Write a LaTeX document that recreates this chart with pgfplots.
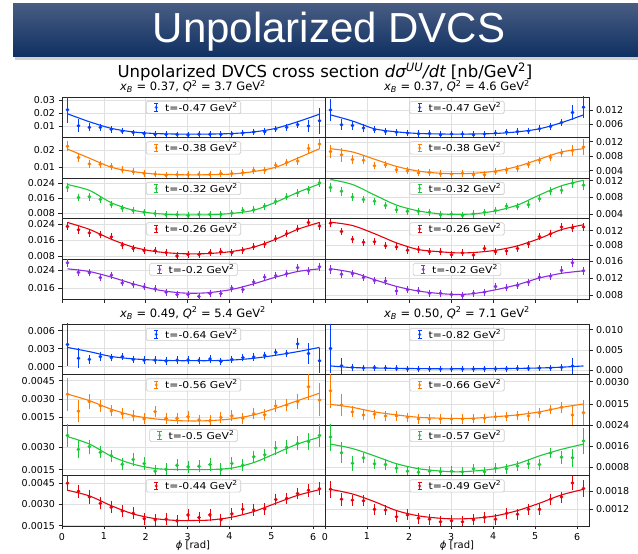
\documentclass[border=0pt]{standalone}
\usepackage{fontspec}
\setmainfont{DejaVu Sans}
\newfontfamily\bannerfont{Liberation Sans}
\newfontfamily\legfont{DejaVu Sans}[FakeStretch=1.14]
\usepackage{pgfplots}
\pgfplotsset{compat=1.18}
\definecolor{cblue}{HTML}{023EFF}
\definecolor{corange}{HTML}{FF7C00}
\definecolor{cgreen}{HTML}{1AC938}
\definecolor{cred}{HTML}{E8000B}
\definecolor{cpurple}{HTML}{8B2BE2}
\pgfplotsset{
  base/.style={scale only axis, xmin=0, xmax=6.2832, xtick={0,1,2,3,4,5,6}, xticklabels={},
    grid=major, major grid style={draw=black!12, line width=0.5pt},
    axis line style={draw=black!85, line width=0.7pt},
    tick align=outside, major tick length=3.5pt,
    tick style={draw=black!85, line width=0.7pt},
    tick label style={font=\fontsize{9.5}{11}\selectfont},
    scaled y ticks=false, xtick pos=bottom,
    legend cell align=left,
    legend style={at={(0.5,1)}, anchor=north, yshift=-4pt, draw=black!20, line width=0.6pt,
      rounded corners=1.5pt, fill=white, fill opacity=0.8, draw opacity=1, text opacity=1,
      font=\legfont\fontsize{9.5}{11}\selectfont, inner xsep=2pt, inner ysep=0pt, nodes={inner sep=1pt}}},
  leftp/.style={base, width=263pt, ytick pos=left},
  rightp/.style={base, width=264pt, ytick pos=right, yticklabel pos=right},
  inner/.style={xtick style={draw=none}},
  bot/.style={xticklabels={0,1,2,3,4,5,6}},
  toph/.style={height=40.5pt},
  both/.style={height=50.5pt},
  dat/.style={only marks, mark=*, mark size=1.6pt, color=#1, mark options={solid, fill=#1, draw=#1},
    legend image code/.code={%
      \path[draw=none, fill=none] (0pt,-1pt) rectangle (16pt,1pt);
      \draw[color=#1, line width=0.8pt] (8pt,-3.7pt) -- (8pt,3.7pt);
      \draw[color=#1, line width=0.8pt] (5.8pt,-3.7pt) -- (10.2pt,-3.7pt) (5.8pt,3.7pt) -- (10.2pt,3.7pt);
      \fill[color=#1, draw=none] (8pt,0pt) circle (1.7pt);},
    error bars/y dir=both, error bars/y explicit,
    error bars/error bar style={line width=0.8pt, color=#1},
    error bars/error mark options={line width=0.8pt, mark size=2.4pt, color=#1}},
  fit/.style={no marks, smooth, line width=1.1pt, color=#1, forget plot},
}
\begin{document}
\begin{tikzpicture}[x=1pt,y=1pt]
\useasboundingbox (0,0) rectangle (638,554);
\fill[white] (0,0) rectangle (638,554);
\fill[black!18] (15,494) rectangle (638,497);
\shade[top color={rgb,255:red,72;green,92;blue,130}, bottom color={rgb,255:red,14;green,48;blue,98}] (13,497) rectangle (638,550);
\node[anchor=base, white, font=\bannerfont\fontsize{42}{48}\selectfont] at (329,511) {Unpolarized DVCS};
\node[anchor=base, font=\fontsize{16.5}{19}\selectfont] at (325,476.5) {Unpolarized DVCS cross section {\itshape dσ}\textsuperscript{\itshape UU}{\itshape /dt} [nb/GeV\textsuperscript{2}]};
\node[anchor=base, font=\fontsize{11.5}{13}\selectfont] at (193,463) {{\itshape x}\textsubscript{\itshape B} = 0.37, {\itshape Q}\textsuperscript{2} = 3.7 GeV\textsuperscript{2}};
\node[anchor=base, font=\fontsize{11.5}{13}\selectfont] at (457,463) {{\itshape x}\textsubscript{\itshape B} = 0.37, {\itshape Q}\textsuperscript{2} = 4.6 GeV\textsuperscript{2}};
\node[anchor=base, font=\fontsize{11.5}{13}\selectfont] at (193,236.7) {{\itshape x}\textsubscript{\itshape B} = 0.49, {\itshape Q}\textsuperscript{2} = 5.4 GeV\textsuperscript{2}};
\node[anchor=base, font=\fontsize{11.5}{13}\selectfont] at (457,236.7) {{\itshape x}\textsubscript{\itshape B} = 0.50, {\itshape Q}\textsuperscript{2} = 7.1 GeV\textsuperscript{2}};
\node[anchor=base, inner sep=0pt, font=\fontsize{10}{11}\selectfont] at (193,5) {{\itshape ϕ} [rad]};
\node[anchor=base, inner sep=0pt, font=\fontsize{10}{11}\selectfont] at (457,5) {{\itshape ϕ} [rad]};

% ---------- top-left group ----------
\begin{axis}[leftp, toph, inner, at={(62pt,416.5pt)}, anchor=south west, ymin=0.0016, ymax=0.0322, ytick={0.01,0.02,0.03}, yticklabels={0.01,0.02,0.03}]
\addplot[dat=cblue] table[x index=0, y index=1, y error index=2] {
0.131 0.0225 0.0078
0.393 0.0105 0.0030
0.654 0.0093 0.0012
0.916 0.0093 0.0008
1.178 0.0078 0.0008
1.440 0.0063 0.0006
1.702 0.0053 0.0005
1.963 0.0045 0.0005
2.225 0.0040 0.0005
2.487 0.0040 0.0005
2.749 0.0038 0.0005
3.011 0.0035 0.0005
3.272 0.0040 0.0005
3.534 0.0040 0.0005
3.796 0.0040 0.0005
4.058 0.0043 0.0005
4.320 0.0050 0.0005
4.581 0.0058 0.0005
4.843 0.0060 0.0006
5.105 0.0080 0.0008
5.367 0.0093 0.0008
5.629 0.0113 0.0010
5.890 0.0103 0.0030
6.152 0.0143 0.0079
};
\addlegendentry{t=-0.47 GeV\textsuperscript{2}}
\addplot[fit=cblue] coordinates {(0.131,0.0195) (0.654,0.0135) (1.178,0.0085) (1.702,0.0058) (2.225,0.0046) (2.749,0.0042) (3.142,0.0041) (3.534,0.0042) (4.058,0.0046) (4.581,0.0058) (5.105,0.0085) (5.629,0.0135) (6.152,0.0192)};
\end{axis}

\begin{axis}[leftp, toph, inner, at={(62pt,376pt)}, anchor=south west, ymin=0.0033, ymax=0.0278, ytick={0.01,0.02}, yticklabels={0.01,0.02}]
\addplot[dat=corange] table[x index=0, y index=1, y error index=2] {
0.131 0.0225 0.0015
0.393 0.0157 0.0013
0.654 0.0118 0.0008
0.916 0.0116 0.0008
1.178 0.0104 0.0007
1.440 0.0082 0.0007
1.702 0.0071 0.0006
1.963 0.0061 0.0006
2.225 0.0057 0.0006
2.487 0.0049 0.0006
2.749 0.0053 0.0006
3.011 0.0053 0.0006
3.272 0.0055 0.0006
3.534 0.0055 0.0006
3.796 0.0061 0.0006
4.058 0.0061 0.0006
4.320 0.0065 0.0006
4.581 0.0080 0.0007
4.843 0.0080 0.0007
5.105 0.0110 0.0007
5.367 0.0127 0.0007
5.629 0.0135 0.0009
5.890 0.0212 0.0012
6.152 0.0239 0.0018
};
\addlegendentry{t=-0.38 GeV\textsuperscript{2}}
\addplot[fit=corange] coordinates {(0.131,0.0208) (0.654,0.0153) (1.178,0.0098) (1.702,0.0072) (2.225,0.0057) (2.749,0.0053) (3.142,0.0052) (3.534,0.0053) (4.058,0.0057) (4.581,0.0072) (5.105,0.0098) (5.629,0.0153) (6.152,0.0210)};
\end{axis}

\begin{axis}[leftp, toph, inner, at={(62pt,335.5pt)}, anchor=south west, ymin=0.0051, ymax=0.0267, ytick={0.008,0.016,0.024}, yticklabels={0.008,0.016,0.024}]
\addplot[dat=cgreen] table[x index=0, y index=1, y error index=2] {
0.131 0.0217 0.0010
0.393 0.0163 0.0008
0.654 0.0167 0.0008
0.916 0.0153 0.0006
1.178 0.0124 0.0006
1.440 0.0106 0.0006
1.702 0.0094 0.0006
1.963 0.0085 0.0006
2.225 0.0077 0.0006
2.487 0.0071 0.0006
2.749 0.0071 0.0006
3.011 0.0066 0.0006
3.272 0.0073 0.0006
3.534 0.0073 0.0006
3.796 0.0073 0.0006
4.058 0.0080 0.0006
4.320 0.0094 0.0006
4.581 0.0098 0.0006
4.843 0.0117 0.0006
5.105 0.0142 0.0006
5.367 0.0166 0.0006
5.629 0.0187 0.0006
5.890 0.0205 0.0008
6.152 0.0241 0.0009
};
\addlegendentry{t=-0.32 GeV\textsuperscript{2}}
\addplot[fit=cgreen] coordinates {(0.131,0.0232) (0.654,0.0201) (1.178,0.0135) (1.702,0.0095) (2.225,0.0078) (2.749,0.0071) (3.142,0.0070) (3.534,0.0071) (4.058,0.0078) (4.581,0.0095) (5.105,0.0138) (5.629,0.0190) (6.152,0.0235)};
\end{axis}

\begin{axis}[leftp, toph, inner, at={(62pt,295pt)}, anchor=south west, ymin=0.0065, ymax=0.027, ytick={0.008,0.016,0.024}, yticklabels={0.008,0.016,0.024}]
\addplot[dat=cred] table[x index=0, y index=1, y error index=2] {
0.131 0.0230 0.0008
0.393 0.0213 0.0007
0.654 0.0197 0.0006
0.916 0.0188 0.0006
1.178 0.0177 0.0006
1.440 0.0135 0.0006
1.702 0.0118 0.0006
1.963 0.0107 0.0006
2.225 0.0107 0.0006
2.487 0.0097 0.0006
2.749 0.0080 0.0006
3.011 0.0088 0.0006
3.272 0.0088 0.0006
3.534 0.0098 0.0006
3.796 0.0102 0.0006
4.058 0.0097 0.0006
4.320 0.0110 0.0006
4.581 0.0127 0.0006
4.843 0.0140 0.0006
5.105 0.0168 0.0006
5.367 0.0193 0.0006
5.629 0.0218 0.0006
5.890 0.0250 0.0007
6.152 0.0232 0.0008
};
\addlegendentry{t=-0.26 GeV\textsuperscript{2}}
\addplot[fit=cred] coordinates {(0.131,0.0250) (0.654,0.0215) (1.178,0.0165) (1.702,0.0125) (2.225,0.0103) (2.749,0.0093) (3.142,0.0091) (3.534,0.0093) (4.058,0.0103) (4.581,0.0125) (5.105,0.0165) (5.629,0.0215) (6.152,0.0250)};
\end{axis}

\begin{axis}[leftp, toph, at={(62pt,254.5pt)}, anchor=south west, ymin=0.011, ymax=0.0291, ytick={0.016,0.024}, yticklabels={0.016,0.024}]
\addplot[dat=cpurple] table[x index=0, y index=1, y error index=2] {
0.131 0.0274 0.0006
0.393 0.0231 0.0006
0.654 0.0229 0.0005
0.916 0.0208 0.0005
1.178 0.0219 0.0005
1.440 0.0184 0.0005
1.702 0.0177 0.0005
1.963 0.0166 0.0005
2.225 0.0157 0.0005
2.487 0.0143 0.0005
2.749 0.0132 0.0005
3.011 0.0132 0.0005
3.272 0.0124 0.0005
3.534 0.0137 0.0005
3.796 0.0136 0.0005
4.058 0.0161 0.0005
4.320 0.0154 0.0005
4.581 0.0188 0.0005
4.843 0.0210 0.0005
5.105 0.0216 0.0005
5.367 0.0226 0.0005
5.629 0.0252 0.0005
5.890 0.0237 0.0006
6.152 0.0256 0.0006
};
\addlegendentry{t=-0.2 GeV\textsuperscript{2}}
\addplot[fit=cpurple] coordinates {(0.131,0.0247) (0.654,0.0235) (1.178,0.0210) (1.702,0.0180) (2.225,0.0155) (2.749,0.0141) (3.142,0.0138) (3.534,0.0141) (4.058,0.0155) (4.581,0.0180) (5.105,0.0210) (5.629,0.0235) (6.152,0.0247)};
\end{axis}

% ---------- top-right group ----------
\begin{axis}[rightp, toph, inner, at={(325pt,416.5pt)}, anchor=south west, ymin=0.0003, ymax=0.0175, ytick={0.006,0.012}, yticklabels={0.006,0.012}]
\addplot[dat=cblue] table[x index=0, y index=1, y error index=2] {
0.131 0.0120 0.0038
0.393 0.0057 0.0013
0.654 0.0054 0.0007
0.916 0.0043 0.0005
1.178 0.0036 0.0004
1.440 0.0028 0.0004
1.702 0.0025 0.0004
1.963 0.0022 0.0004
2.225 0.0019 0.0004
2.487 0.0020 0.0004
2.749 0.0015 0.0004
3.011 0.0018 0.0004
3.272 0.0018 0.0004
3.534 0.0015 0.0004
3.796 0.0018 0.0004
4.058 0.0022 0.0004
4.320 0.0026 0.0004
4.581 0.0028 0.0004
4.843 0.0031 0.0004
5.105 0.0040 0.0004
5.367 0.0050 0.0004
5.629 0.0067 0.0006
5.890 0.0109 0.0022
6.152 0.0131 0.0036
};
\addlegendentry{t=-0.47 GeV\textsuperscript{2}}
\addplot[fit=cblue] coordinates {(0.131,0.0099) (0.654,0.0073) (1.178,0.0040) (1.702,0.0027) (2.225,0.0020) (2.749,0.0018) (3.142,0.0017) (3.534,0.0018) (4.058,0.0020) (4.581,0.0027) (5.105,0.0040) (5.629,0.0066) (6.152,0.0099)};
\end{axis}

\begin{axis}[rightp, toph, inner, at={(325pt,376pt)}, anchor=south west, ymin=0.0020, ymax=0.0132, ytick={0.004,0.008,0.012}, yticklabels={0.004,0.008,0.012}]
\addplot[dat=corange] table[x index=0, y index=1, y error index=2] {
0.131 0.0093 0.0012
0.393 0.0084 0.0013
0.654 0.0071 0.0006
0.916 0.0069 0.0004
1.178 0.0054 0.0003
1.440 0.0056 0.0003
1.702 0.0043 0.0003
1.963 0.0040 0.0003
2.225 0.0034 0.0003
2.487 0.0035 0.0003
2.749 0.0032 0.0003
3.011 0.0031 0.0003
3.272 0.0033 0.0003
3.534 0.0029 0.0003
3.796 0.0029 0.0003
4.058 0.0037 0.0003
4.320 0.0042 0.0003
4.581 0.0046 0.0003
4.843 0.0057 0.0003
5.105 0.0069 0.0003
5.367 0.0077 0.0004
5.629 0.0089 0.0005
5.890 0.0096 0.0008
6.152 0.0106 0.0015
};
\addlegendentry{t=-0.38 GeV\textsuperscript{2}}
\addplot[fit=corange] coordinates {(0.131,0.0101) (0.654,0.0092) (1.178,0.0072) (1.702,0.0052) (2.225,0.0039) (2.749,0.0033) (3.142,0.0032) (3.534,0.0033) (4.058,0.0039) (4.581,0.0052) (5.105,0.0072) (5.629,0.0092) (6.152,0.0101)};
\end{axis}

\begin{axis}[rightp, toph, inner, at={(325pt,335.5pt)}, anchor=south west, ymin=0.0030, ymax=0.01265, ytick={0.004,0.008,0.012}, yticklabels={0.004,0.008,0.012}]
\addplot[dat=cgreen] table[x index=0, y index=1, y error index=2] {
0.131 0.0104 0.0006
0.393 0.0095 0.0005
0.654 0.0081 0.0003
0.916 0.0075 0.0003
1.178 0.0071 0.0003
1.440 0.0061 0.0003
1.702 0.0051 0.0003
1.963 0.0047 0.0003
2.225 0.0047 0.0003
2.487 0.0045 0.0003
2.749 0.0039 0.0003
3.011 0.0040 0.0003
3.272 0.0037 0.0003
3.534 0.0041 0.0003
3.796 0.0045 0.0003
4.058 0.0049 0.0003
4.320 0.0059 0.0003
4.581 0.0058 0.0003
4.843 0.0063 0.0003
5.105 0.0077 0.0003
5.367 0.0095 0.0004
5.629 0.0097 0.0004
5.890 0.0114 0.0005
6.152 0.0109 0.0006
};
\addlegendentry{t=-0.32 GeV\textsuperscript{2}}
\addplot[fit=cgreen] coordinates {(0.131,0.0123) (0.654,0.0111) (1.178,0.0086) (1.702,0.0062) (2.225,0.0048) (2.749,0.0041) (3.142,0.0040) (3.534,0.0041) (4.058,0.0048) (4.581,0.0062) (5.105,0.0086) (5.629,0.0108) (6.152,0.0121)};
\end{axis}

\begin{axis}[rightp, toph, inner, at={(325pt,295pt)}, anchor=south west, ymin=0.00435, ymax=0.0153, ytick={0.008,0.012}, yticklabels={0.008,0.012}]
\addplot[dat=cred] table[x index=0, y index=1, y error index=2] {
0.131 0.0140 0.0004
0.393 0.0118 0.0004
0.654 0.0097 0.0003
0.916 0.0089 0.0003
1.178 0.0090 0.0003
1.440 0.0079 0.0003
1.702 0.0076 0.0003
1.963 0.0067 0.0003
2.225 0.0069 0.0003
2.487 0.0063 0.0003
2.749 0.0063 0.0003
3.011 0.0055 0.0003
3.272 0.0060 0.0003
3.534 0.0054 0.0003
3.796 0.0072 0.0003
4.058 0.0063 0.0003
4.320 0.0065 0.0003
4.581 0.0072 0.0003
4.843 0.0084 0.0003
5.105 0.0104 0.0003
5.367 0.0112 0.0003
5.629 0.0130 0.0003
5.890 0.0127 0.0004
6.152 0.0130 0.0004
};
\addlegendentry{t=-0.26 GeV\textsuperscript{2}}
\addplot[fit=cred] coordinates {(0.131,0.0143) (0.654,0.0134) (1.178,0.0112) (1.702,0.0087) (2.225,0.0069) (2.749,0.0063) (3.142,0.0060) (3.534,0.0061) (4.058,0.0067) (4.581,0.0079) (5.105,0.0099) (5.629,0.0123) (6.152,0.0136)};
\end{axis}

\begin{axis}[rightp, toph, at={(325pt,254.5pt)}, anchor=south west, ymin=0.0069, ymax=0.0165, ytick={0.008,0.012,0.016}, yticklabels={0.008,0.012,0.016}]
\addplot[dat=cpurple] table[x index=0, y index=1, y error index=2] {
0.131 0.0140 0.0004
0.393 0.0129 0.0004
0.654 0.0130 0.0003
0.916 0.0121 0.0003
1.178 0.0114 0.0003
1.440 0.0113 0.0003
1.702 0.0089 0.0003
1.963 0.0092 0.0003
2.225 0.0090 0.0003
2.487 0.0084 0.0003
2.749 0.0084 0.0003
3.011 0.0081 0.0003
3.272 0.0078 0.0003
3.534 0.0084 0.0003
3.796 0.0086 0.0003
4.058 0.0100 0.0003
4.320 0.0097 0.0003
4.581 0.0102 0.0003
4.843 0.0110 0.0003
5.105 0.0122 0.0003
5.367 0.0124 0.0003
5.629 0.0138 0.0004
5.890 0.0156 0.0005
6.152 0.0137 0.0004
};
\addlegendentry{t=-0.2 GeV\textsuperscript{2}}
\addplot[fit=cpurple] coordinates {(0.131,0.0142) (0.654,0.0133) (1.178,0.0116) (1.702,0.0100) (2.225,0.0089) (2.749,0.0083) (3.142,0.0081) (3.534,0.0083) (4.058,0.0092) (4.581,0.0104) (5.105,0.0120) (5.629,0.0131) (6.152,0.0137)};
\end{axis}

% ---------- bottom-left group ----------
\begin{axis}[leftp, both, inner, at={(62pt,179.5pt)}, anchor=south west, ymin=-0.0013, ymax=0.0071, ytick={0,0.003,0.006}, yticklabels={0.000,0.003,0.006}]
\addplot[dat=cblue] table[x index=0, y index=1, y error index=2] {
0.131 0.0037 0.0032
0.393 0.0014 0.00125
0.654 0.0012 0.0004
0.916 0.00167 0.0003
1.178 0.0015 0.0002
1.440 0.00167 0.0002
1.702 0.0012 0.0002
1.963 0.0011 0.0002
2.225 0.0011 0.0002
2.487 0.00095 0.0002
2.749 0.0011 0.0002
3.011 0.0011 0.0002
3.272 0.00105 0.0002
3.534 0.00128 0.0002
3.796 0.0009 0.0002
4.058 0.0012 0.0002
4.320 0.0015 0.0002
4.581 0.0016 0.0002
4.843 0.0019 0.0002
5.105 0.0024 0.0002
5.367 0.0022 0.0002
5.629 0.0038 0.0005
5.890 0.0022 0.0013
6.152 0.0010 0.0017
};
\addlegendentry{t=-0.64 GeV\textsuperscript{2}}
\addplot[fit=cblue] coordinates {(0.131,0.0032) (0.654,0.0025) (1.178,0.0017) (1.702,0.0013) (2.225,0.0011) (2.749,0.0010) (3.142,0.0010) (3.534,0.0010) (4.058,0.0011) (4.581,0.0014) (5.105,0.0019) (5.629,0.0025) (6.152,0.0032)};
\end{axis}

\begin{axis}[leftp, both, inner, at={(62pt,129pt)}, anchor=south west, ymin=0.00087, ymax=0.0050, ytick={0.0015,0.0030,0.0045}, yticklabels={0.0015,0.0030,0.0045}]
\addplot[dat=corange] table[x index=0, y index=1, y error index=2] {
0.131 0.00339 0.00115
0.393 0.00200 0.0007
0.654 0.00278 0.0004
0.916 0.00243 0.0003
1.178 0.00202 0.00025
1.440 0.00178 0.00025
1.702 0.00161 0.00025
1.963 0.00137 0.00025
2.225 0.00197 0.00025
2.487 0.00142 0.00025
2.749 0.00142 0.00025
3.011 0.00155 0.00025
3.272 0.00128 0.00025
3.534 0.00123 0.00025
3.796 0.00150 0.00025
4.058 0.00161 0.00025
4.320 0.00142 0.00025
4.581 0.00178 0.00025
4.843 0.00170 0.00025
5.105 0.00243 0.0003
5.367 0.00250 0.0003
5.629 0.00278 0.0004
5.890 0.00400 0.0009
6.152 0.00292 0.00115
};
\addlegendentry{t=-0.56 GeV\textsuperscript{2}}
\addplot[fit=corange] coordinates {(0.131,0.0034) (0.654,0.00286) (1.178,0.00216) (1.702,0.00164) (2.225,0.00137) (2.749,0.00123) (3.142,0.0012) (3.534,0.00123) (4.058,0.00137) (4.581,0.0017) (5.105,0.00224) (5.629,0.00286) (6.152,0.00347)};
\end{axis}

\begin{axis}[leftp, both, inner, at={(62pt,78.5pt)}, anchor=south west, ymin=0.0011, ymax=0.0045, ytick={0.0015,0.0030}, yticklabels={0.0015,0.0030}]
\addplot[dat=cgreen] table[x index=0, y index=1, y error index=2] {
0.131 0.00379 0.0006
0.393 0.00286 0.00045
0.654 0.00304 0.0003
0.916 0.00266 0.00025
1.178 0.00243 0.00025
1.440 0.00186 0.00025
1.702 0.00218 0.00025
1.963 0.00191 0.00025
2.225 0.00140 0.00025
2.487 0.00152 0.00025
2.749 0.00179 0.00025
3.011 0.00168 0.00025
3.272 0.00172 0.00025
3.534 0.00184 0.00025
3.796 0.00150 0.00025
4.058 0.00191 0.00025
4.320 0.00179 0.00025
4.581 0.00236 0.00025
4.843 0.00250 0.00025
5.105 0.00295 0.0003
5.367 0.00300 0.0003
5.629 0.00327 0.0003
5.890 0.00338 0.0004
6.152 0.00379 0.0006
};
\addlegendentry{t=-0.5 GeV\textsuperscript{2}}
\addplot[fit=cgreen] coordinates {(0.131,0.00372) (0.654,0.00322) (1.178,0.0024) (1.702,0.00186) (2.225,0.00157) (2.749,0.0015) (3.142,0.0015) (3.534,0.0015) (4.058,0.0016) (4.581,0.00197) (5.105,0.00259) (5.629,0.00322) (6.152,0.00368)};
\end{axis}

\begin{axis}[leftp, both, bot, at={(62pt,28pt)}, anchor=south west, ymin=0.00148, ymax=0.00504, ytick={0.0015,0.0030,0.0045}, yticklabels={0.0015,0.0030,0.0045}]
\addplot[dat=cred] table[x index=0, y index=1, y error index=2] {
0.131 0.00450 0.0004
0.393 0.00393 0.0003
0.654 0.00353 0.0003
0.916 0.00307 0.00025
1.178 0.00280 0.00025
1.440 0.00254 0.00025
1.702 0.00238 0.00025
1.963 0.00199 0.00025
2.225 0.00192 0.00025
2.487 0.00196 0.00025
2.749 0.00185 0.00025
3.011 0.00226 0.00025
3.272 0.00208 0.00025
3.534 0.00226 0.00025
3.796 0.00192 0.00025
4.058 0.00233 0.00025
4.320 0.00266 0.00025
4.581 0.00261 0.00025
4.843 0.00268 0.00025
5.105 0.00335 0.00025
5.367 0.00342 0.00025
5.629 0.00377 0.00025
5.890 0.00400 0.0003
6.152 0.00411 0.0003
};
\addlegendentry{t=-0.44 GeV\textsuperscript{2}}
\addplot[fit=cred] coordinates {(0.131,0.0040) (0.654,0.0036) (1.178,0.00291) (1.702,0.00233) (2.225,0.0020) (2.749,0.00187) (3.142,0.00187) (3.534,0.0019) (4.058,0.0021) (4.581,0.0025) (5.105,0.00308) (5.629,0.00364) (6.152,0.00404)};
\end{axis}

% ---------- bottom-right group ----------
\begin{axis}[rightp, both, inner, at={(325pt,179.5pt)}, anchor=south west, ymin=-0.001, ymax=0.0114, ytick={0,0.005,0.010}, yticklabels={0.000,0.005,0.010}]
\addplot[dat=cblue] table[x index=0, y index=1, y error index=2] {
0.131 0.0054 0.0055
0.393 0.00115 0.0014
0.654 0.00075 0.0003
0.916 0.0006 0.0002
1.178 0.0007 0.00015
1.440 0.0006 0.00015
1.702 0.0005 0.00015
1.963 0.00035 0.00015
2.225 0.00035 0.00015
2.487 0.00035 0.00015
2.749 0.00035 0.00015
3.011 0.00035 0.00015
3.272 0.00035 0.00015
3.534 0.00035 0.00015
3.796 0.0004 0.00015
4.058 0.0004 0.00015
4.320 0.0004 0.00015
4.581 0.0005 0.00015
4.843 0.0005 0.00015
5.105 0.0006 0.00015
5.367 0.0006 0.00015
5.629 0.00075 0.0002
5.890 0.0011 0.0014
};
\addlegendentry{t=-0.82 GeV\textsuperscript{2}}
\addplot[fit=cblue] coordinates {(0.131,0.0011) (0.654,0.0007) (1.178,0.0006) (1.702,0.0005) (2.225,0.00045) (2.749,0.0004) (3.142,0.0004) (3.534,0.0004) (4.058,0.00045) (4.581,0.0005) (5.105,0.0006) (5.629,0.0008) (6.152,0.0011)};
\end{axis}

\begin{axis}[rightp, both, inner, at={(325pt,129pt)}, anchor=south west, ymin=0.00013, ymax=0.00348, ytick={0.0015,0.0030}, yticklabels={0.0015,0.0030}]
\addplot[dat=corange] table[x index=0, y index=1, y error index=2] {
0.131 0.0024 0.0010
0.393 0.00146 0.00055
0.654 0.0010 0.0002
0.916 0.0008 0.00015
1.178 0.00084 0.00015
1.440 0.00073 0.00015
1.702 0.00073 0.00015
1.963 0.00064 0.00015
2.225 0.00053 0.00015
2.487 0.00053 0.00015
2.749 0.00053 0.00015
3.011 0.00053 0.00015
3.272 0.00053 0.00015
3.534 0.00055 0.00015
3.796 0.00057 0.00015
4.058 0.00068 0.00015
4.320 0.00068 0.00015
4.581 0.00077 0.00015
4.843 0.00073 0.00015
5.105 0.00093 0.00015
5.367 0.00115 0.00015
5.629 0.0013 0.0002
5.890 0.0008 0.0005
6.152 0.00095 0.00066
};
\addlegendentry{t=-0.66 GeV\textsuperscript{2}}
\addplot[fit=corange] coordinates {(0.131,0.0015) (0.654,0.0013) (1.178,0.0010) (1.702,0.0008) (2.225,0.00064) (2.749,0.00058) (3.142,0.00057) (3.534,0.00058) (4.058,0.00068) (4.581,0.0008) (5.105,0.0010) (5.629,0.0013) (6.152,0.00152)};
\end{axis}

\begin{axis}[rightp, both, inner, at={(325pt,78.5pt)}, anchor=south west, ymin=0.00048, ymax=0.00241, ytick={0.0008,0.0016,0.0024}, yticklabels={0.0008,0.0016,0.0024}]
\addplot[dat=cgreen] table[x index=0, y index=1, y error index=2] {
0.131 0.00195 0.00045
0.393 0.00135 0.0003
0.654 0.00095 0.0002
0.916 0.00116 0.0001
1.178 0.00093 0.0001
1.440 0.00090 0.0001
1.702 0.00076 0.0001
1.963 0.00064 0.0001
2.225 0.00060 0.0001
2.487 0.00064 0.0001
2.749 0.00062 0.0001
3.011 0.00064 0.0001
3.272 0.00062 0.0001
3.534 0.00074 0.0001
3.796 0.00062 0.0001
4.058 0.00076 0.0001
4.320 0.00074 0.0001
4.581 0.00084 0.0001
4.843 0.00093 0.0001
5.105 0.00090 0.0001
5.367 0.00134 0.0001
5.629 0.00118 0.00015
5.890 0.00116 0.00026
6.152 0.00180 0.00042
};
\addlegendentry{t=-0.57 GeV\textsuperscript{2}}
\addplot[fit=cgreen] coordinates {(0.131,0.00168) (0.654,0.00151) (1.178,0.00123) (1.702,0.00093) (2.225,0.00074) (2.749,0.00065) (3.142,0.00062) (3.534,0.00065) (4.058,0.00074) (4.581,0.00093) (5.105,0.00123) (5.629,0.00148) (6.152,0.00168)};
\end{axis}

\begin{axis}[rightp, both, bot, at={(325pt,28pt)}, anchor=south west, ymin=0.00066, ymax=0.0023, ytick={0.0012,0.0018}, yticklabels={0.0012,0.0018}]
\addplot[dat=cred] table[x index=0, y index=1, y error index=2] {
0.131 0.00185 0.0002
0.393 0.00153 0.00013
0.654 0.00150 0.0001
0.916 0.00148 0.0001
1.178 0.00120 0.0001
1.440 0.00118 0.0001
1.702 0.00096 0.0001
1.963 0.00102 0.0001
2.225 0.00091 0.0001
2.487 0.00088 0.0001
2.749 0.00080 0.0001
3.011 0.00083 0.0001
3.272 0.00080 0.0001
3.534 0.00086 0.0001
3.796 0.00094 0.0001
4.058 0.00088 0.0001
4.320 0.00107 0.0001
4.581 0.00104 0.0001
4.843 0.00120 0.0001
5.105 0.00120 0.0001
5.367 0.00153 0.0001
5.629 0.00160 0.0001
5.890 0.00206 0.00015
6.152 0.00188 0.0002
};
\addlegendentry{t=-0.49 GeV\textsuperscript{2}}
\addplot[fit=cred] coordinates {(0.131,0.00185) (0.654,0.0017) (1.178,0.00145) (1.702,0.00116) (2.225,0.00099) (2.749,0.00091) (3.142,0.00089) (3.534,0.00091) (4.058,0.00099) (4.581,0.00116) (5.105,0.0014) (5.629,0.00167) (6.152,0.00185)};
\end{axis}
\end{tikzpicture}
\end{document}
